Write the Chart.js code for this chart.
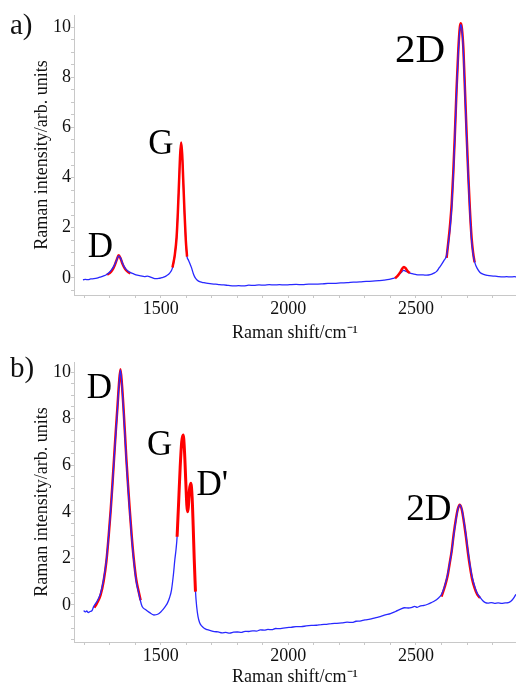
<!DOCTYPE html>
<html>
<head>
<meta charset="utf-8">
<script src="https://cdn.jsdelivr.net/npm/chart.js@4.4.1/dist/chart.umd.min.js"></script>
<style>
  html, body { margin: 0; padding: 0; background: #fff; }
  body { width: 516px; height: 688px; position: relative; overflow: hidden; font-family: "Liberation Serif", "Times New Roman", serif; }
  .panel { position: absolute; left: 0; width: 516px; height: 344px; }
  .tag { position: absolute; left: 10px; font-size: 29px; line-height: 1; color: #111; }
</style>
</head>
<body>
<div class="panel" style="top:0"><canvas id="chartA"></canvas></div>
<div class="panel" style="top:344px"><canvas id="chartB"></canvas></div>
<div class="tag" style="top:10px">a)</div>
<div class="tag" style="top:353px">b)</div>
<script>
// ---- panel a: measured spectrum ----
const shiftA = [1195,1205,1215,1225,1238,1250,1262,1276,1288,1298,1308,1317,1326,1335,1342,1349,1356,1364,1372,1382,1394,1408,1422,1436,1448,1458,1468,1480,1492,1504,1514,1524,1534,1546,1555,1562,1567,1572,1576,1580,1584,1588,1593,1598,1603,1608,1614,1620,1627,1634,1642,1655,1669,1685,1700,1715,1730,1747,1765,1786,1805,1825,1845,1865,1885,1905,1925,1945,1965,1985,2005,2030,2055,2080,2105,2130,2155,2180,2205,2230,2255,2280,2305,2330,2355,2375,2395,2410,2422,2432,2442,2452,2462,2472,2485,2498,2512,2528,2542,2556,2570,2581,2592,2601,2610,2620,2627,2633,2640,2646,2652,2659,2666,2672,2676,2680,2686,2692,2699,2705,2711,2718,2724,2731,2740,2751,2765,2780,2795,2810,2825,2840,2855,2870,2885,2895];
const intensityA = [-0.08,-0.06,-0.07,-0.04,-0.03,-0.01,0.03,0.08,0.14,0.22,0.34,0.48,0.68,0.88,0.80,0.62,0.46,0.34,0.27,0.21,0.16,0.11,0.08,0.05,0.07,0.04,0.00,-0.03,-0.02,0.01,0.04,0.10,0.18,0.40,0.90,1.60,2.60,3.90,4.90,5.39,4.90,3.90,2.60,1.50,0.85,0.72,0.58,0.42,0.19,0.02,-0.08,-0.16,-0.19,-0.22,-0.24,-0.25,-0.27,-0.28,-0.30,-0.32,-0.31,-0.32,-0.29,-0.30,-0.28,-0.29,-0.27,-0.28,-0.27,-0.28,-0.27,-0.26,-0.27,-0.25,-0.25,-0.24,-0.22,-0.22,-0.20,-0.19,-0.17,-0.16,-0.14,-0.13,-0.11,-0.09,-0.06,-0.02,0.03,0.12,0.22,0.30,0.26,0.21,0.17,0.14,0.12,0.12,0.11,0.13,0.19,0.26,0.42,0.55,0.70,0.90,1.40,1.90,2.80,4.00,5.50,7.40,9.00,9.90,10.10,9.90,9.00,7.40,5.50,4.00,2.70,1.50,0.95,0.60,0.38,0.22,0.14,0.10,0.08,0.07,0.05,0.04,0.05,0.04,0.05,0.04];

// panel a: fitted peaks
const fitShiftDA = [1290,1300,1310,1320,1328,1335,1342,1350,1360,1370,1381];
const fitDA = [0.13,0.19,0.31,0.52,0.74,0.90,0.79,0.56,0.36,0.25,0.18];
const fitShiftGA = [1546,1555,1562,1567,1572,1576,1580,1584,1588,1593,1598,1603];
const fitGA = [0.42,0.92,1.62,2.62,3.92,4.92,5.40,4.92,3.92,2.62,1.52,0.85];
const fitShiftSmallA = [2418,2428,2438,2446,2453,2460,2468,2476];
const fitSmallA = [-0.01,0.08,0.22,0.37,0.44,0.38,0.26,0.20];
const fitShift2DA = [2620,2627,2633,2640,2646,2652,2659,2666,2672,2676,2680,2686,2692,2699,2705,2711,2718,2724,2730];
const fit2DA = [0.80,1.45,2.05,2.95,4.15,5.60,7.50,9.10,10.00,10.15,9.95,9.10,7.50,5.60,4.10,2.80,1.60,1.00,0.62];

// ---- panel b: measured spectrum ----
const shiftB = [1198,1204,1210,1216,1223,1230,1237,1250,1264,1276,1287,1296,1304,1311,1317,1324,1330,1336,1342,1348,1354,1360,1365,1372,1378,1386,1394,1404,1414,1421,1427,1440,1455,1473,1488,1500,1510,1518,1526,1534,1542,1550,1555,1560,1564,1570,1576,1582,1588,1593,1598,1602,1605,1608,1612,1618,1623,1627,1631,1636,1641,1646,1652,1660,1670,1682,1695,1710,1725,1740,1755,1770,1785,1800,1815,1830,1845,1860,1875,1890,1905,1920,1935,1950,1965,1980,1995,2010,2030,2050,2070,2090,2110,2130,2150,2170,2190,2210,2230,2250,2265,2280,2300,2320,2340,2360,2380,2400,2420,2440,2455,2470,2485,2495,2505,2518,2532,2546,2560,2574,2586,2600,2612,2624,2632,2640,2648,2656,2664,2672,2680,2688,2696,2704,2712,2720,2730,2740,2751,2762,2772,2782,2795,2808,2822,2836,2850,2862,2872,2882,2892];
const intensityB = [-0.24,-0.30,-0.26,-0.33,-0.28,-0.25,-0.07,0.15,0.50,1.10,1.93,3.00,4.08,5.20,6.22,7.40,8.37,9.40,10.09,9.40,8.37,7.20,6.22,5.00,4.08,2.90,1.93,1.00,0.50,0.15,-0.07,-0.20,-0.32,-0.43,-0.40,-0.30,-0.18,-0.06,0.08,0.30,0.64,1.35,1.93,2.40,2.93,4.40,5.90,7.00,7.30,6.60,5.30,4.50,4.30,4.40,4.90,5.20,4.60,3.40,2.00,0.60,-0.10,-0.50,-0.75,-0.90,-1.00,-1.06,-1.10,-1.14,-1.16,-1.20,-1.18,-1.21,-1.17,-1.16,-1.18,-1.13,-1.14,-1.11,-1.12,-1.07,-1.08,-1.05,-1.06,-1.01,-1.02,-0.99,-0.97,-0.96,-0.93,-0.93,-0.90,-0.88,-0.87,-0.84,-0.83,-0.80,-0.79,-0.77,-0.74,-0.75,-0.70,-0.69,-0.64,-0.61,-0.55,-0.50,-0.43,-0.37,-0.28,-0.18,-0.12,-0.13,-0.10,-0.06,-0.10,-0.04,-0.02,0.03,0.10,0.18,0.28,0.45,0.80,1.30,1.80,2.30,3.00,3.60,4.10,4.30,4.10,3.60,3.00,2.30,1.70,1.20,0.80,0.50,0.33,0.18,0.10,0.08,0.10,0.07,0.09,0.07,0.09,0.10,0.16,0.28,0.46];

// panel b: fitted peaks
const fitShiftDB = [1240,1250,1264,1276,1287,1296,1304,1311,1317,1324,1330,1336,1342,1348,1354,1360,1365,1372,1378,1386,1394,1404,1414,1421];
const fitDB = [-0.12,0.08,0.42,1.02,1.88,2.98,4.10,5.25,6.30,7.50,8.45,9.45,10.12,9.45,8.45,7.30,6.30,5.10,4.15,2.98,2.00,1.08,0.55,0.20];
const fitShiftGB = [1564,1570,1576,1582,1588,1593,1598,1602,1605,1608,1612,1618,1623,1627,1631,1636];
const fitGB = [2.93,4.40,5.90,7.00,7.30,6.60,5.30,4.30,4.00,4.20,4.90,5.22,4.60,3.40,2.00,0.57];
const fitShift2DB = [2600,2612,2624,2632,2640,2648,2656,2664,2672,2680,2688,2696,2704,2712,2720,2730,2740,2751];
const fit2DB = [0.36,0.75,1.25,1.78,2.32,3.05,3.65,4.12,4.30,4.08,3.55,2.92,2.22,1.62,1.12,0.72,0.45,0.30];

// peak names and where they sit (data units, text baseline)
const peakNamesA = ["D", "G", "2D"];
const peakShiftA = [1263, 1500, 2516];
const peakHeightA = [0.84, 4.94, 8.6];
const peakNamesB = ["D", "G", "D'", "2D"];
const peakShiftB = [1259, 1496, 1702, 2551];
const peakHeightB = [8.88, 6.44, 4.72, 3.65];

// axis ticks
const xTickLabels = [1500, 2000, 2500];
const yTickLabels = [0, 2, 4, 6, 8, 10];

const BLUE = "rgb(40, 40, 255)";
const RED = "rgb(255, 0, 0)";
const AXIS = "#c8c8c8";

Chart.defaults.font.family = "'Liberation Serif', 'Times New Roman', serif";
Chart.defaults.color = "#111";

function points(xs, ys) {
    return xs.map((x, i) => ({ x: x, y: ys[i] }));
}

function line(xs, ys, color, width, order) {
    return {
        data: points(xs, ys),
        borderColor: color,
        borderWidth: width,
        pointRadius: 0,
        cubicInterpolationMode: "monotone",
        fill: false,
        order: order,
    };
}

// draws the peak names on top of the plot
const peakNamePlugin = {
    id: "peakNames",
    afterDatasetsDraw(chart, args, opts) {
        const ctx = chart.ctx;
        const xs = chart.scales.x, ys = chart.scales.y;
        ctx.save();
        ctx.fillStyle = "#000";
        ctx.textAlign = "center";
        ctx.textBaseline = "alphabetic";
        opts.names.forEach((name, i) => {
            ctx.font = opts.sizes[i] + "px 'Liberation Serif', serif";
            ctx.fillText(name, xs.getPixelForValue(opts.shifts[i]), ys.getPixelForValue(opts.heights[i]));
        });
        ctx.restore();
    },
};

function makeChart(id, datasets, yMin, yMax, padTop, xAxisHeight, xTitlePad, labels) {
    const minorX = [];
    for (let v = 1200; v <= 2800; v += 100) minorX.push(v);
    const minorY = [];
    for (let v = Math.ceil(yMin * 2) / 2; v <= 10; v += 0.5) minorY.push(v);

    return new Chart(document.getElementById(id).getContext("2d"), {
        type: "line",
        data: { datasets: datasets },
        plugins: [peakNamePlugin],
        options: {
            responsive: true,
            maintainAspectRatio: false,
            animation: false,
            layout: { padding: { top: padTop, right: 0, left: 0, bottom: 0 } },
            plugins: {
                legend: { display: false },
                tooltip: { enabled: false },
                peakNames: labels,
            },
            scales: {
                x: {
                    type: "linear",
                    min: 1160,
                    max: 2892,
                    afterBuildTicks: (s) => { s.ticks = minorX.map((v) => ({ value: v })); },
                    afterFit: (s) => { s.height = xAxisHeight; },
                    ticks: {
                        autoSkip: false,
                        maxRotation: 0,
                        padding: 0,
                        font: { size: 18 },
                        callback: (v) => (xTickLabels.includes(v) ? String(v) : ""),
                    },
                    grid: { drawOnChartArea: false, tickLength: 3, color: AXIS },
                    border: { color: AXIS, width: 1 },
                    title: {
                        display: true,
                        text: "Raman shift/cm\u207B\u00B9",
                        font: { size: 18 },
                        padding: { top: 0, bottom: xTitlePad },
                    },
                },
                y: {
                    type: "linear",
                    min: yMin,
                    max: yMax,
                    afterBuildTicks: (s) => { s.ticks = minorY.map((v) => ({ value: v })); },
                    afterFit: (s) => { s.width = 74; },
                    ticks: {
                        autoSkip: false,
                        padding: 0,
                        font: { size: 18 },
                        callback: (v) => (yTickLabels.includes(v) ? String(v) : ""),
                    },
                    grid: { drawOnChartArea: false, tickLength: 3, color: AXIS },
                    border: { color: AXIS, width: 1 },
                    title: {
                        display: true,
                        text: "Raman intensity/arb. units",
                        font: { size: 18 },
                        padding: { top: 31, bottom: 0 },
                    },
                },
            },
        },
    });
}

makeChart("chartA", [
    line(shiftA, intensityA, BLUE, 1.3, 1),
    line(fitShiftDA, fitDA, RED, 2.5, 2),
    line(fitShiftGA, fitGA, RED, 2.5, 0),
    line(fitShiftSmallA, fitSmallA, RED, 2.5, 0),
    line(fitShift2DA, fit2DA, RED, 2.5, 2),
], -0.68, 10.48, 15, 49, 0, {
    names: peakNamesA, shifts: peakShiftA, heights: peakHeightA, sizes: [35, 35, 41],
});

makeChart("chartB", [
    line(shiftB, intensityB, BLUE, 1.3, 1),
    line(fitShiftDB, fitDB, RED, 2.5, 2),
    line(fitShiftGB, fitGB, RED, 3, 0),
    line(fitShift2DB, fit2DB, RED, 2.5, 2),
], -1.59, 10.43, 18, 46, 0, {
    names: peakNamesB, shifts: peakShiftB, heights: peakHeightB, sizes: [35, 35, 35, 37],
});
</script>
</body>
</html>
